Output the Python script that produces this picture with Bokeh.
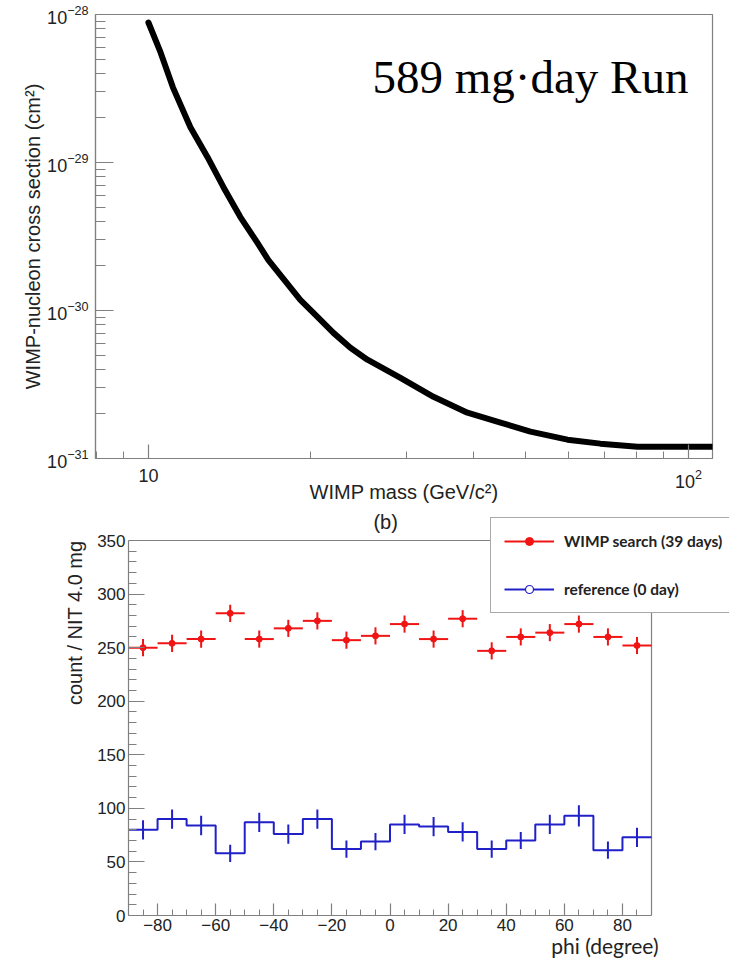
from bokeh.plotting import figure
from bokeh.models import (Range1d, FixedTicker, Label, Legend, LegendItem,
                          ColumnDataSource, Title, LogTickFormatter)
from bokeh.embed import file_html
from bokeh.resources import INLINE

# ---------------- data: top panel (exclusion curve) ----------------
wimp_mass = [10.0, 10.5, 11.1, 11.96, 12.86, 13.77, 14.8, 15.92, 16.68, 19.11,
             20.56, 22.01, 23.66, 25.44, 29.29, 33.72, 38.96, 44.87, 50.98,
             59.7, 68.7, 80.5, 110.8]
cross_section = [8.83e-29, 5.71e-29, 3.22e-29, 1.73e-29, 1.09e-29, 6.81e-30,
                 4.28e-30, 2.86e-30, 2.19e-30, 1.18e-30, 9.05e-31, 7.06e-31,
                 5.60e-31, 4.65e-31, 3.51e-31, 2.61e-31, 2.04e-31, 1.75e-31,
                 1.52e-31, 1.34e-31, 1.26e-31, 1.20e-31, 1.20e-31]
mass_ticks = [10, 100]
mass_plain_ticks = [10]          # shown as plain "10" (100 keeps 10² form)
mass_plain_labels = ["10"]
mass_minor = [8, 9, 20, 30, 40, 50, 60, 70, 80, 90]
sigma_ticks = [1e-31, 1e-30, 1e-29, 1e-28]
sigma_minor = [k * d for d in [1e-31, 1e-30, 1e-29] for k in range(2, 10)]

# ---------------- data: bottom panel (phi distribution) ----------------
phi_edges = [-90, -80, -70, -60, -50, -40, -30, -20, -10, 0,
             10, 20, 30, 40, 50, 60, 70, 80, 90]
phi_centers = [-85, -75, -65, -55, -45, -35, -25, -15, -5,
               5, 15, 25, 35, 45, 55, 65, 75, 85]
wimp_counts = [250, 254, 258, 282, 258, 268, 275, 257, 261,
               272, 258, 277, 247, 260, 264, 272, 260, 252]
wimp_err = [8, 8, 8, 8, 8, 8, 8, 8, 8, 8, 8, 8, 8, 8, 8, 8, 8, 8]
ref_counts = [80, 90, 84, 58, 87, 76, 90, 62, 69,
              85, 83, 78, 62, 70, 85, 93, 61, 73]
ref_err = [9, 9, 9, 8, 9, 9, 9, 8, 8, 9, 9, 9, 8, 8, 9, 10, 8, 9]
phi_ticks = [-80, -60, -40, -20, 0, 20, 40, 60, 80]
phi_tick_labels = ["−80", "−60", "−40", "−20", "0", "20", "40", "60", "80"]
phi_minor = [-90, -85, -75, -70, -65, -55, -50, -45, -35, -30, -25, -15, -10, -5,
             5, 10, 15, 25, 30, 35, 45, 50, 55, 65, 70, 75, 85, 90]
count_ticks = [0, 50, 100, 150, 200, 250, 300, 350]
count_minor = [v for v in range(0, 351, 10) if v % 50 != 0]

GRAY = "#808080"
TXT = "#222222"
RED = "#f01414"
BLUE = "#2020c8"
W = 729


def style_axis(ax, size):
    ax.axis_line_color = GRAY
    ax.axis_line_width = 1.2
    ax.major_tick_line_color = GRAY
    ax.minor_tick_line_color = GRAY
    ax.major_tick_line_width = 1.2
    ax.major_tick_out = 0
    ax.minor_tick_out = 0
    ax.major_label_text_font = "Liberation Sans"
    ax.major_label_text_font_size = size
    ax.major_label_text_color = TXT
    ax.axis_label_text_font = "Liberation Sans"
    ax.axis_label_text_font_style = "normal"
    ax.axis_label_text_color = TXT
    ax.axis_label_text_font_size = "20px"


# ---------------- top figure ----------------
top = figure(width=W, height=505, x_axis_type="log", y_axis_type="log",
             x_range=Range1d(7.98, 110.8), y_range=Range1d(1e-31, 1e-28),
             output_backend="svg", toolbar_location=None, title=None,
             min_border_left=95, min_border_right=17, min_border_top=14,
             min_border_bottom=46)
top.grid.visible = False
top.outline_line_color = GRAY
top.outline_line_width = 1.2

xa = top.xaxis[0]
style_axis(xa, "18px")
xa.ticker = FixedTicker(ticks=mass_ticks, minor_ticks=mass_minor)
xa.formatter = LogTickFormatter()
xa.major_label_overrides = dict(zip(mass_plain_ticks, mass_plain_labels))
xa.major_tick_in = 14
xa.minor_tick_in = 7
xa.major_label_standoff = 10
xa.axis_label = "WIMP mass (GeV/c²)"
xa.axis_label_standoff = -10

ya = top.yaxis[0]
style_axis(ya, "18px")
ya.ticker = FixedTicker(ticks=sigma_ticks, minor_ticks=sigma_minor)
ya.formatter = LogTickFormatter()
ya.major_tick_in = 18
ya.minor_tick_in = 10
ya.major_label_standoff = 7
ya.axis_label = "WIMP-nucleon cross section (cm²)"
ya.axis_label_standoff = 0

top.line(wimp_mass, cross_section, line_width=6, line_color="black",
         line_join="round", line_cap="round")

top.add_layout(Label(x=26.0, y=3.76e-29, text="589 mg·day Run",
                     text_font="Liberation Serif", text_font_size="47px",
                     text_color="black", text_baseline="alphabetic",
                     text_align="left"))

# ---------------- bottom figure ----------------
# the frame is extended above/right of the data box so that the legend and
# the "(b)" tag (which overhang the plotted box) are not clipped
bot = figure(width=W, height=453, x_range=Range1d(-90, 116.84),
             y_range=Range1d(0, 382.67), output_backend="svg",
             toolbar_location=None, title=None,
             min_border_left=128, min_border_right=0,
             min_border_top=0, min_border_bottom=43)
bot.grid.visible = False
bot.outline_line_color = None

bx = bot.xaxis[0]
style_axis(bx, "17px")
bx.bounds = (phi_edges[0], phi_edges[-1])
bx.ticker = FixedTicker(ticks=phi_ticks, minor_ticks=phi_minor)
bx.major_label_overrides = dict(zip(phi_ticks, phi_tick_labels))
bx.major_tick_in = 12
bx.minor_tick_in = 6
bx.major_label_standoff = 3

by = bot.yaxis[0]
style_axis(by, "17px")
by.bounds = (count_ticks[0], count_ticks[-1])
by.ticker = FixedTicker(ticks=count_ticks, minor_ticks=count_minor)
by.major_tick_in = 16
by.minor_tick_in = 8
by.major_label_standoff = 3

# top and right edges of the plotted box
bot.segment(x0=[phi_edges[0], phi_edges[-1]], y0=[count_ticks[-1], 0],
            x1=[phi_edges[-1], phi_edges[-1]], y1=[count_ticks[-1], count_ticks[-1]],
            line_color=GRAY, line_width=1.2)

wsrc = ColumnDataSource(dict(
    x=phi_centers, y=wimp_counts,
    x0=phi_edges[:-1], x1=phi_edges[1:],
    ylo=[c - e for c, e in zip(wimp_counts, wimp_err)],
    yhi=[c + e for c, e in zip(wimp_counts, wimp_err)]))
rsrc = ColumnDataSource(dict(
    x=phi_centers, y=ref_counts,
    ylo=[c - e for c, e in zip(ref_counts, ref_err)],
    yhi=[c + e for c, e in zip(ref_counts, ref_err)]))

red_h = bot.segment(x0="x0", y0="y", x1="x1", y1="y", source=wsrc,
                    line_color=RED, line_width=2)
bot.segment(x0="x", y0="ylo", x1="x", y1="yhi", source=wsrc,
            line_color=RED, line_width=2)
red_dot = bot.scatter("x", "y", source=wsrc, size=6, marker="circle",
                      fill_color=RED, line_color=RED)

blue_step = bot.step(x=phi_edges, y=ref_counts + [ref_counts[-1]], mode="after",
                     line_color=BLUE, line_width=2)
bot.segment(x0="x", y0="ylo", x1="x", y1="yhi", source=rsrc,
            line_color=BLUE, line_width=2)
blue_o = bot.scatter("x", "y", source=rsrc, size=6, marker="circle",
                     fill_color="white", line_color=BLUE, line_width=1.2,
                     visible=False)

legend = Legend(items=[
    LegendItem(label="WIMP search (39 days)", renderers=[red_h, red_dot]),
    LegendItem(label="reference (0 day)", renderers=[blue_step, blue_o])],
    location=(362, 302), orientation="vertical",
    glyph_width=50, glyph_height=20, label_height=20, label_standoff=10,
    spacing=28, padding=13, margin=0,
    border_line_color="#555555", border_line_width=1.5,
    background_fill_color="white", background_fill_alpha=1.0,
    label_text_font="Lato", label_text_font_style="bold",
    label_text_font_size="15.5px", label_text_color=TXT)
bot.add_layout(legend)

bot.add_layout(Label(x=-5.7, y=367, text="(b)", text_align="left",
                     text_baseline="alphabetic", text_font="Liberation Sans",
                     text_font_size="20px", text_color=TXT))
bot.add_layout(Title(text="count / NIT 4.0 mg", align="right", offset=35,
                     standoff=17, text_font="Liberation Sans",
                     text_font_style="normal", text_font_size="20px",
                     text_color=TXT), "left")
bot.add_layout(Title(text="phi (degree)", align="right", offset=71, standoff=-6,
                     text_font="Lato", text_font_style="normal",
                     text_font_size="21px", text_color=TXT), "below")

open("out.html", "w").write(file_html([top, bot], INLINE))
